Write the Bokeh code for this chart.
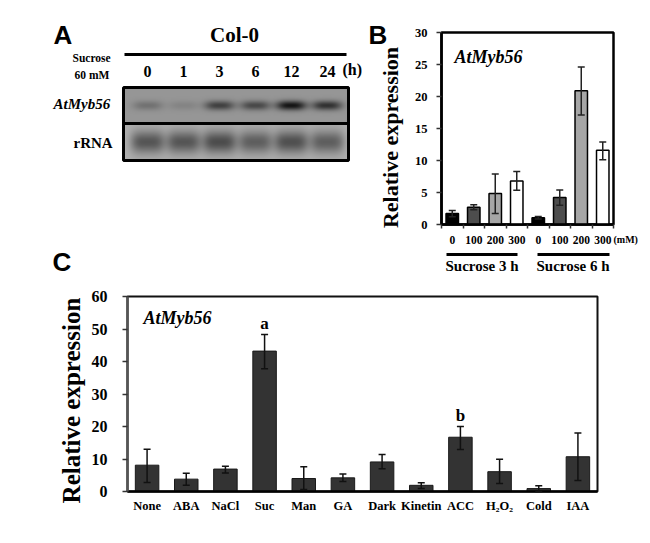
import numpy as np
from bokeh.core.properties import value
from bokeh.embed import file_html
from bokeh.layouts import column, row
from bokeh.models import ColumnDataSource, FixedTicker, Label, LinearColorMapper, Range1d, TeeHead, Whisker, BoxAnnotation
from bokeh.palettes import Greys256
from bokeh.plotting import figure
from bokeh.resources import INLINE

# ---------- data ----------
lanes = ["0", "1", "3", "6", "12", "24"]
band_strength = [0.28, 0.14, 0.66, 0.6, 1.0, 0.78]
rrna_strength = [0.80, 0.80, 0.88, 0.72, 0.85, 0.72]

b_labels = ["0", "100", "200", "300", "0", "100", "200", "300"]
b_values = [1.7, 2.7, 4.85, 6.8, 1.05, 4.2, 20.9, 11.6]
b_upper = [2.2, 3.1, 7.9, 8.3, 1.25, 5.4, 24.6, 12.9]
b_lower = [1.2, 2.3, 1.7, 5.35, 0.85, 3.0, 17.1, 10.1]
b_colors = ["#000000", "#4d4d4d", "#a6a6a6", "#ffffff", "#000000", "#4d4d4d", "#a6a6a6", "#ffffff"]

c_labels = ["None", "ABA", "NaCl", "Suc", "Man", "GA", "Dark", "Kinetin", "ACC", "H₂O₂", "Cold", "IAA"]
c_values = [8.1, 3.8, 6.9, 43.2, 4.0, 4.2, 9.1, 1.9, 16.7, 6.1, 0.9, 10.7]
c_upper = [13.0, 5.6, 7.8, 48.3, 7.6, 5.4, 11.4, 2.7, 20.0, 9.9, 1.8, 18.0]
c_lower = [2.8, 1.9, 5.7, 37.8, 0.6, 3.1, 7.0, 0.9, 12.9, 2.5, 0.0, 3.4]

SERIF = "Liberation Serif"
SANS = "Liberation Sans"
DROP = 0.45  # the renderer sets "alphabetic" text this fraction of its size lower


def put(p, ox, oy, text, px, py, size, font=SERIF, style="bold", align="left", angle=0.0, color="#000000"):
    """Place a text by page position; (ox, oy) is the figure's top-left corner on the page."""
    if angle:
        px -= DROP * size
    else:
        py -= DROP * size
    p.add_layout(Label(x=px - ox, y=py - oy, x_units="canvas", y_units="canvas", text=text,
                       text_font=font, text_font_style=style, text_font_size=f"{size}px",
                       text_align=align, text_baseline="alphabetic", angle=angle,
                       text_color=color))


def rule(p, ox, oy, x0, x1, py, thick):
    p.add_layout(BoxAnnotation(left=x0 - ox, right=x1 - ox, top=py - oy - thick / 2, bottom=py - oy + thick / 2,
                               left_units="canvas", right_units="canvas", top_units="canvas", bottom_units="canvas",
                               fill_color="#000000", fill_alpha=1, line_color=None))


def full_frame(width, height, x_range, y_range):
    p = figure(width=width, height=height, output_backend="svg", toolbar_location=None,
               x_range=x_range, y_range=y_range, min_border=0, min_border_left=0, min_border_right=0,
               min_border_top=0, min_border_bottom=0, outline_line_color=None)
    p.grid.visible = False
    return p


def style_axes(p, y_ticks, y_top, x_top, x_size, y_size, x_standoff, y_standoff, y_color):
    p.xaxis.fixed_location = 0
    p.yaxis.fixed_location = 0
    p.xaxis.bounds = (0, x_top)
    p.yaxis.bounds = (0, y_top)
    p.xaxis.major_tick_line_color = None
    p.xaxis.axis_line_color = "#000000"
    p.xaxis.axis_line_width = 2.5
    p.xaxis.major_label_standoff = x_standoff
    p.xaxis.major_label_text_font = SERIF
    p.xaxis.major_label_text_font_style = "bold"
    p.xaxis.major_label_text_font_size = f"{x_size}px"
    p.xaxis.major_label_text_color = "#000000"
    p.yaxis.ticker = FixedTicker(ticks=y_ticks)
    p.yaxis.minor_tick_line_color = None
    p.yaxis.major_tick_out = 5
    p.yaxis.major_tick_in = 0
    p.yaxis.major_tick_line_color = "#333333"
    p.yaxis.major_tick_line_width = 1.5
    p.yaxis.axis_line_color = y_color
    p.yaxis.axis_line_width = 2.5
    p.yaxis.major_label_standoff = y_standoff
    p.yaxis.major_label_text_font = SERIF
    p.yaxis.major_label_text_font_style = "bold"
    p.yaxis.major_label_text_font_size = f"{y_size}px"
    p.yaxis.major_label_text_color = "#000000"
    p.yaxis.major_label_orientation = "horizontal"


def whiskers(p, xs, upper, lower, color):
    p.add_layout(Whisker(source=ColumnDataSource(dict(x=xs, u=upper, l=lower)), base="x", upper="u", lower="l",
                         line_color=color, line_width=1.5, level="overlay",
                         upper_head=TeeHead(size=7, line_color=color, line_width=1.5),
                         lower_head=TeeHead(size=7, line_color=color, line_width=1.5)))


# ---------- panel A ----------
AW, AH = 363, 281
LANE0, LANE_STEP = 147.0, 36.0
pa = figure(width=AW, height=AH, output_backend="svg", toolbar_location=None,
            x_range=Range1d((0 - LANE0) / LANE_STEP, (AW - LANE0) / LANE_STEP),
            y_range=Range1d(0, AH), min_border=0, min_border_left=0, min_border_right=0,
            min_border_top=0, min_border_bottom=0,
            outline_line_color=None, x_axis_type=None, y_axis_type=None)
pa.grid.visible = False


def blot(strengths, base, depth, half_w, half_h, ny, top_py, sharp):
    x0, x1 = (123 - LANE0) / LANE_STEP, (348 - LANE0) / LANE_STEP
    nx = 225
    xs = np.linspace(x0, x1, nx)
    ys = np.linspace(-1, 1, ny)
    arr = np.full((ny, nx), float(base))
    for i, s in enumerate(strengths):
        gx = np.exp(-np.abs((xs - i) * LANE_STEP / half_w) ** sharp)
        gy = np.exp(-np.abs(ys * (ny / 2) / half_h) ** 2)
        arr -= depth * s * np.outer(gy, gx)
    mapper = LinearColorMapper(palette=Greys256, low=0, high=255)
    pa.image(image=[arr], x=x0, y=AH - top_py - ny, dw=x1 - x0, dh=ny, color_mapper=mapper)
    pa.quad(left=x0, right=x1, top=AH - top_py, bottom=AH - top_py - ny,
            fill_color=None, line_color="#000000", line_width=3)


blot(band_strength, 150, 130, 15, 4.8, 36, 87, 3)
blot(rrna_strength, 175, 112, 17, 11.5, 37, 123, 4)

pa.segment(x0=[(124 - LANE0) / LANE_STEP], x1=[(346 - LANE0) / LANE_STEP], y0=[AH - 54], y1=[AH - 54],
           line_color="#000000", line_width=3)
pa.text(x=list(range(len(lanes))), y=[AH - 78 + DROP * 16] * len(lanes), text=lanes,
        text_font=value(SERIF), text_font_style="bold", text_font_size="16px",
        text_align="center", text_baseline="alphabetic", text_color="#000000")

put(pa, 0, 0, "A", 53, 46, 26, font=SANS)
put(pa, 0, 0, "Col-0", 234, 44, 21, align="center")
put(pa, 0, 0, "Sucrose", 72, 63, 11.5)
put(pa, 0, 0, "60 mM", 74, 80, 11.5)
put(pa, 0, 0, "(h)", 342, 76, 16)
put(pa, 0, 0, "AtMyb56", 53, 110, 15, style="bold italic")
put(pa, 0, 0, "rRNA", 73, 149, 15)
put(pa, 0, 0, "C", 52, 273, 26, font=SANS)

# ---------- panel B ----------
OX_B = 363
BW = 285
BSX, BSY = 21.5, 6.4  # px per data unit
pb = full_frame(BW, AH,
                Range1d((OX_B - 441) / BSX, (OX_B + BW - 441) / BSX),
                Range1d(-(AH - 224) / BSY, 30 + 32 / BSY))
xb = [i + 0.5 for i in range(len(b_values))]
pb.quad(left=0, right=8, bottom=0, top=30, fill_color=None, line_color="#000000", line_width=2.5)
pb.vbar(x=xb, top=b_values, width=0.58, fill_color=b_colors, line_color="#000000", line_width=1.5)
whiskers(pb, xb, b_upper, b_lower, "#222222")
style_axes(pb, [0, 5, 10, 15, 20, 25, 30], 30, 8, 11.5, 12.5, 5, 9, "#000000")
pb.xaxis.ticker = FixedTicker(ticks=xb, minor_ticks=list(range(9)))
pb.xaxis.major_label_overrides = {x: t for x, t in zip(xb, b_labels)}
pb.xaxis.minor_tick_out = 4
pb.xaxis.minor_tick_in = 0
pb.xaxis.minor_tick_line_color = "#333333"
pb.xaxis.minor_tick_line_width = 1.5
put(pb, OX_B, 0, "B", 368, 46, 26, font=SANS)
put(pb, OX_B, 0, "AtMyb56", 454, 65, 18, style="bold italic")
put(pb, OX_B, 0, "Relative expression", 400, 137, 22, align="center", angle=np.pi / 2)
put(pb, OX_B, 0, "(mM)", 613, 243, 10)
put(pb, OX_B, 0, "Sucrose 3 h", 445, 272, 15)
put(pb, OX_B, 0, "Sucrose 6 h", 536, 272, 15)
rule(pb, OX_B, 0, 446, 517, 254, 3)
rule(pb, OX_B, 0, 537, 609, 254, 3)

# ---------- panel C ----------
OY_C = AH
CW, CH = 648, 247
CSX, CSY = 470 / 12, 3.25
pc = full_frame(CW, CH,
                Range1d(-127 / CSX, (CW - 127) / CSX),
                Range1d(-(OY_C + CH - 491) / CSY, 60 + (296 - OY_C) / CSY))
xc = [i + 0.5 for i in range(len(c_values))]
pc.quad(left=0, right=12, bottom=0, top=60, fill_color=None, line_color="#111111", line_width=2)
pc.vbar(x=xc, top=c_values, width=0.6, fill_color="#333333", line_color="#1a1a1a", line_width=1)
whiskers(pc, xc, c_upper, c_lower, "#111111")
style_axes(pc, [0, 10, 20, 30, 40, 50, 60], 60, 12, 12.5, 16, 1, 15, "#555555")
pc.xaxis.ticker = FixedTicker(ticks=xc)
pc.xaxis.major_label_overrides = {x: t for x, t in zip(xc, c_labels)}
pc.xaxis.minor_tick_line_color = None
pc.text(x=[xc[3], xc[8]], y=[c_upper[3] + 3.4, c_upper[8] + 3.4], text=["a", "b"],
        text_font=value(SERIF), text_font_style="bold", text_font_size="17px",
        text_align="center", text_baseline="alphabetic", text_color="#000000")
put(pc, 0, OY_C, "AtMyb56", 143, 326, 18, style="bold italic")
put(pc, 0, OY_C, "Relative expression", 82, 400, 25, align="center", angle=np.pi / 2)

layout = column(row(pa, pb, spacing=0), pc, spacing=0)
open("out.html", "w").write(file_html(layout, INLINE))
